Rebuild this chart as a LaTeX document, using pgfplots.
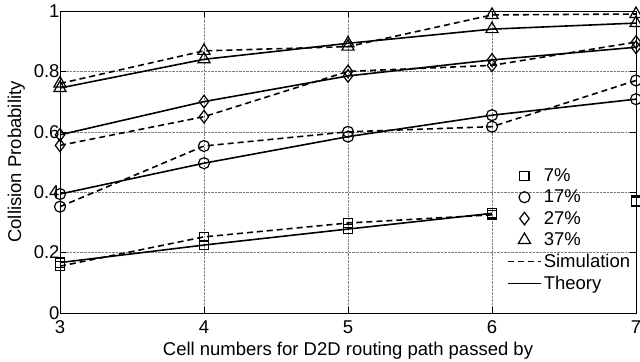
\documentclass[border=0pt]{standalone}
\usepackage{pgfplots}
\pgfplotsset{compat=1.18}
\usepackage{fontspec}
\setmainfont{Liberation Sans}
\pgfplotsset{
  markleg/.style={legend image code/.code={\path[draw=none,fill=none] (0bp,0bp) rectangle (33bp,0bp); \draw[##1] plot coordinates {(16.5bp,0bp)};}},
  lineleg/.style={legend image code/.code={\draw[##1] (0bp,0bp) -- (33bp,0bp);}},
}
\begin{document}
\begin{tikzpicture}
\begin{axis}[
  scale only axis, width=576bp, height=302bp,
  xmin=3, xmax=7, ymin=0, ymax=1,
  xtick={3,4,5,6,7}, ytick={0,0.2,0.4,0.6,0.8,1},
  yticklabels={0,0.2,0.4,0.6,0.8,1},
  tick align=inside, major tick length=6bp,
  xtick pos=both, ytick pos=both,
  grid=major, grid style={densely dotted, gray, line width=0.6pt},
  axis line style={line width=0.9pt},
  tick style={line width=0.6pt, black},
  font=\fontsize{18.5bp}{22bp}\selectfont,
  /pgf/number format/assume math mode=true,
  xticklabel style={yshift=-4bp},
  yticklabel style={xshift=3bp},
  xlabel={Cell numbers for D2D routing path passed by},
  ylabel={Collision Probability},
  xlabel style={yshift=-2bp},
  ylabel style={yshift=2bp},
  unbounded coords=jump,
  every axis plot/.append style={line width=1.6pt, black, mark options={solid, line width=1.2pt, fill=none}},
  legend cell align=left,
  legend style={draw=none, fill=none, inner sep=0pt, at={(rel axis cs:0.776,0.485)}, anchor=north west, row sep=3bp, font=\fontsize{18.5bp}{22bp}\selectfont},
]
\addlegendimage{only marks, mark=square, mark size=4.6bp, markleg}
\addlegendentry{7\%}
\addlegendimage{only marks, mark=o, mark size=5.5bp, markleg}
\addlegendentry{17\%}
\addlegendimage{only marks, mark=diamond, mark size=6.3bp, markleg}
\addlegendentry{27\%}
\addlegendimage{only marks, mark=triangle, mark size=7bp, markleg}
\addlegendentry{37\%}
\addlegendimage{dashed, dash pattern=on 6bp off 4bp, lineleg}
\addlegendentry{Simulation}
\addlegendimage{solid, lineleg}
\addlegendentry{Theory}

% 7%
\addplot[forget plot, dashed, dash pattern=on 6bp off 4bp, mark=square, mark size=4.6bp] coordinates {(3,0.155) (4,0.252) (5,0.298) (6,0.325) (6.5,nan) (7,0.372)};
\addplot[forget plot, solid, mark=square, mark size=4.6bp] coordinates {(3,0.167) (4,0.225) (5,0.278) (6,0.330) (6.5,nan) (7,0.368)};
% 17%
\addplot[forget plot, dashed, dash pattern=on 6bp off 4bp, mark=o, mark size=5.5bp] coordinates {(3,0.352) (4,0.553) (5,0.600) (6,0.617) (7,0.770)};
\addplot[forget plot, solid, mark=o, mark size=5.5bp] coordinates {(3,0.394) (4,0.496) (5,0.584) (6,0.655) (7,0.708)};
% 27%
\addplot[forget plot, dashed, dash pattern=on 6bp off 4bp, mark=diamond, mark size=6.3bp] coordinates {(3,0.555) (4,0.650) (5,0.800) (6,0.820) (7,0.897)};
\addplot[forget plot, solid, mark=diamond, mark size=6.3bp] coordinates {(3,0.590) (4,0.700) (5,0.785) (6,0.838) (7,0.880)};
% 37%
\addplot[forget plot, dashed, dash pattern=on 6bp off 4bp, mark=triangle, mark size=7bp] coordinates {(3,0.760) (4,0.868) (5,0.882) (6,0.987) (7,0.990)};
\addplot[forget plot, solid, mark=triangle, mark size=7bp] coordinates {(3,0.745) (4,0.840) (5,0.893) (6,0.940) (7,0.960)};
\end{axis}
\pgfresetboundingbox
\path[use as bounding box] (-60bp,-49bp) rectangle (580bp,313bp);
\end{tikzpicture}
\end{document}
